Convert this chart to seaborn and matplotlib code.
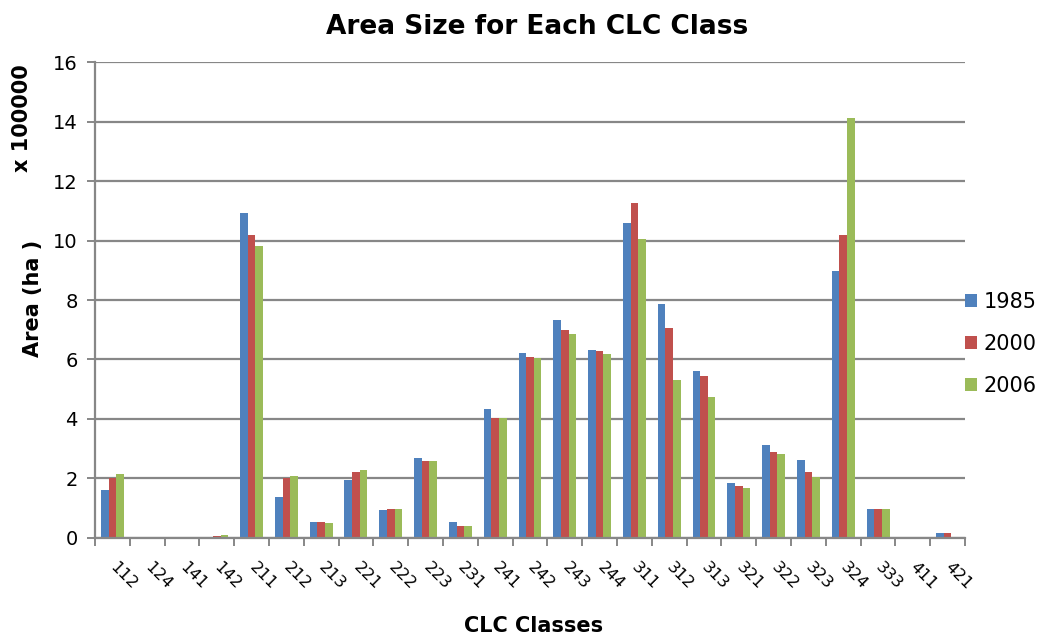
import matplotlib
matplotlib.use("Agg")
import matplotlib.pyplot as plt
from matplotlib.ticker import FixedLocator, NullFormatter
import numpy as np
import pandas as pd
import seaborn as sns

# CORINE land cover classes and their areas (in units of 100000 ha)
classes = ["112", "124", "141", "142", "211", "212", "213", "221", "222", "223",
           "231", "241", "242", "243", "244", "311", "312", "313", "321", "322",
           "323", "324", "333", "411", "421"]
years = ["1985", "2000", "2006"]
area_1985 = [1.62, 0.03, 0.0, 0.04, 10.91, 1.37, 0.53, 1.95, 0.94, 2.69,
             0.53, 4.32, 6.23, 7.34, 6.33, 10.60, 7.86, 5.60, 1.84, 3.13,
             2.63, 8.96, 0.98, 0.0, 0.16]
area_2000 = [2.00, 0.03, 0.0, 0.08, 10.19, 2.02, 0.53, 2.21, 0.99, 2.60,
             0.39, 4.05, 6.09, 6.98, 6.27, 11.25, 7.07, 5.44, 1.74, 2.88,
             2.23, 10.18, 0.98, 0.0, 0.16]
area_2006 = [2.14, 0.03, 0.0, 0.10, 9.81, 2.09, 0.50, 2.28, 0.99, 2.60,
             0.39, 4.02, 6.06, 6.86, 6.19, 10.06, 5.32, 4.74, 1.69, 2.82,
             2.05, 14.13, 0.98, 0.0, 0.0]
colors = ["#4F81BD", "#C0504D", "#9BBB59"]

df = pd.DataFrame({
    "CLC": classes * 3,
    "Year": [y for y in years for _ in classes],
    "Area": area_1985 + area_2000 + area_2006,
})

sns.set_style("white")
plt.rcParams["font.family"] = ["DejaVu Sans"]
plt.rcParams["text.color"] = "black"
plt.rcParams["xtick.labelcolor"] = "black"
plt.rcParams["ytick.labelcolor"] = "black"

fig = plt.figure(figsize=(10.39, 6.36), dpi=100)
ax = fig.add_axes([0.0914, 0.1541, 0.8374, 0.7484])

sns.barplot(data=df, x="CLC", y="Area", hue="Year", order=classes,
            hue_order=years, palette=colors, saturation=1, width=0.66,
            linewidth=0, errorbar=None, ax=ax)

grid_col = "#878787"
ax.set_xlim(-0.5, len(classes) - 0.5)
ax.set_ylim(0, 16)
ax.set_yticks(np.arange(0, 17, 2))
ax.yaxis.grid(True, color=grid_col, linewidth=1.6)
ax.set_axisbelow(True)
for side in ("top", "right"):
    ax.spines[side].set_visible(False)
for side in ("left", "bottom"):
    ax.spines[side].set_color(grid_col)
    ax.spines[side].set_linewidth(1.6)

ax.tick_params(axis="y", which="major", direction="out", length=6, width=1.4,
               color=grid_col, labelsize=14, pad=6.5, left=True,
               labelcolor="black")

# category dividers as minor ticks on the x axis; labels at centers
ax.xaxis.set_minor_locator(FixedLocator(np.arange(-0.5, len(classes), 1.0)))
ax.xaxis.set_minor_formatter(NullFormatter())
ax.tick_params(axis="x", which="minor", direction="out", length=6, width=1.4,
               color=grid_col, bottom=True)
ax.tick_params(axis="x", which="major", length=0, pad=19, labelsize=11.8,
               labelcolor="black")
ax.set_xticks(range(len(classes)))
ax.set_xticklabels(classes, rotation=-45, ha="left", va="center",
                   rotation_mode="anchor")

ax.set_xlabel("")
ax.set_ylabel("")
fig.text(0.514, 0.015, "CLC Classes", ha="center", va="center",
         fontsize=15, fontweight="bold", color="black")
fig.text(0.032, 0.530, "Area (ha )", rotation=90, ha="center", va="center",
         fontsize=15, fontweight="bold", color="black")
fig.text(0.021, 0.814, "x 100000", rotation=90, ha="center", va="center",
         fontsize=15, fontweight="bold", color="black")
fig.text(0.517, 0.957, "Area Size for Each CLC Class", ha="center",
         va="center", fontsize=19, fontweight="bold", color="black")

handles, labels = ax.get_legend_handles_labels()
leg = ax.legend(handles, labels, loc="center left",
                bbox_to_anchor=(0.9288, 0.459),
                bbox_transform=fig.transFigure, frameon=False, fontsize=15,
                handlelength=0.58, handleheight=0.58, handletextpad=0.3,
                labelspacing=1.05, borderpad=0, borderaxespad=0)
for t in leg.get_texts():
    t.set_color("black")

fig.savefig("out.png", dpi=100)
